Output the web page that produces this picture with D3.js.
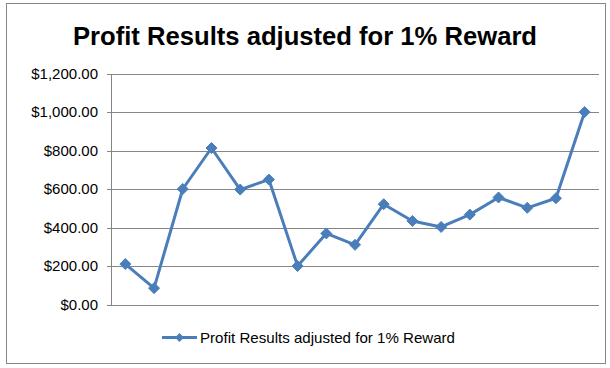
<!DOCTYPE html>
<html>
<head>
<meta charset="utf-8">
<script src="https://cdn.jsdelivr.net/npm/d3@7"></script>
<style>
  html, body { margin: 0; padding: 0; background: #fff; }
  svg { display: block; }
  text { font-family: "Liberation Sans", Arial, sans-serif; }
</style>
</head>
<body>
<svg id="chart" width="610" height="368"></svg>
<script>
const chartTitle = "Profit Results adjusted for 1% Reward";
const seriesName = "Profit Results adjusted for 1% Reward";
const categories = d3.range(1, 18).map(String);
const profitValues = [210, 85, 600, 813, 597, 649, 200, 369, 310, 521, 434, 403, 467, 556, 502, 552, 1000];
const yTicks = [0, 200, 400, 600, 800, 1000, 1200];

const W = 610, H = 368;
const plot = { left: 111, right: 599, top: 73.5, bottom: 304.5 };
const lineColor = "#4A7EBB";
const gridColor = "#868686";

const svg = d3.select("#chart");

// outer border
svg.append("rect")
  .attr("x", 6.5).attr("y", 3.5)
  .attr("width", 599).attr("height", 360)
  .attr("fill", "#fff").attr("stroke", gridColor).attr("stroke-width", 1);

// title
svg.append("text")
  .attr("x", 305).attr("y", 45)
  .attr("text-anchor", "middle")
  .attr("font-size", 25).attr("font-weight", "bold")
  .attr("fill", "#000")
  .attr("textLength", 464).attr("lengthAdjust", "spacingAndGlyphs")
  .text(chartTitle);

const x = d3.scaleBand().domain(categories).range([plot.left, plot.right]);
const y = d3.scaleLinear().domain([0, 1200]).range([plot.bottom, plot.top]);

// gridlines
svg.append("g").selectAll("line").data(yTicks).join("line")
  .attr("x1", plot.left - 4).attr("x2", plot.right)
  .attr("y1", d => Math.round(y(d)) + 0.5).attr("y2", d => Math.round(y(d)) + 0.5)
  .attr("stroke", gridColor).attr("stroke-width", 1);

// y axis line
svg.append("line")
  .attr("x1", plot.left + 0.5).attr("x2", plot.left + 0.5)
  .attr("y1", Math.round(y(1200)) + 0.5).attr("y2", Math.round(y(0)) + 0.5)
  .attr("stroke", gridColor).attr("stroke-width", 1);

// y tick labels
const fmt = d3.format("$,.2f");
svg.append("g").selectAll("text").data(yTicks).join("text")
  .attr("x", 98).attr("y", d => y(d))
  .attr("dy", "0.36em")
  .attr("text-anchor", "end")
  .attr("font-size", 15)
  .attr("fill", "#000")
  .text(d => fmt(d));

// line
const cx = (d, i) => x(categories[i]) + x.bandwidth() / 2;
const line = d3.line().x((d, i) => cx(d, i)).y(d => y(d));
svg.append("path")
  .datum(profitValues)
  .attr("d", line)
  .attr("fill", "none")
  .attr("stroke", lineColor)
  .attr("stroke-width", 3)
  .attr("stroke-linejoin", "round");

// diamond markers
const diamond = r => `M0,${-r}L${r},0L0,${r}L${-r},0Z`;
svg.append("g").selectAll("path").data(profitValues).join("path")
  .attr("transform", (d, i) => `translate(${cx(d, i)},${y(d)})`)
  .attr("d", diamond(5.5))
  .attr("fill", lineColor)
  .attr("stroke", lineColor).attr("stroke-width", 1);

// legend
const lg = svg.append("g");
lg.append("line")
  .attr("x1", 162).attr("x2", 197).attr("y1", 337.5).attr("y2", 337.5)
  .attr("stroke", lineColor).attr("stroke-width", 3);
lg.append("path")
  .attr("transform", "translate(179.5,337.5)")
  .attr("d", diamond(4.5))
  .attr("fill", lineColor);
lg.append("text")
  .attr("x", 200).attr("y", 337.5).attr("dy", "0.36em")
  .attr("font-size", 15).attr("fill", "#000")
  .attr("textLength", 255).attr("lengthAdjust", "spacingAndGlyphs")
  .text(seriesName);
</script>
</body>
</html>
